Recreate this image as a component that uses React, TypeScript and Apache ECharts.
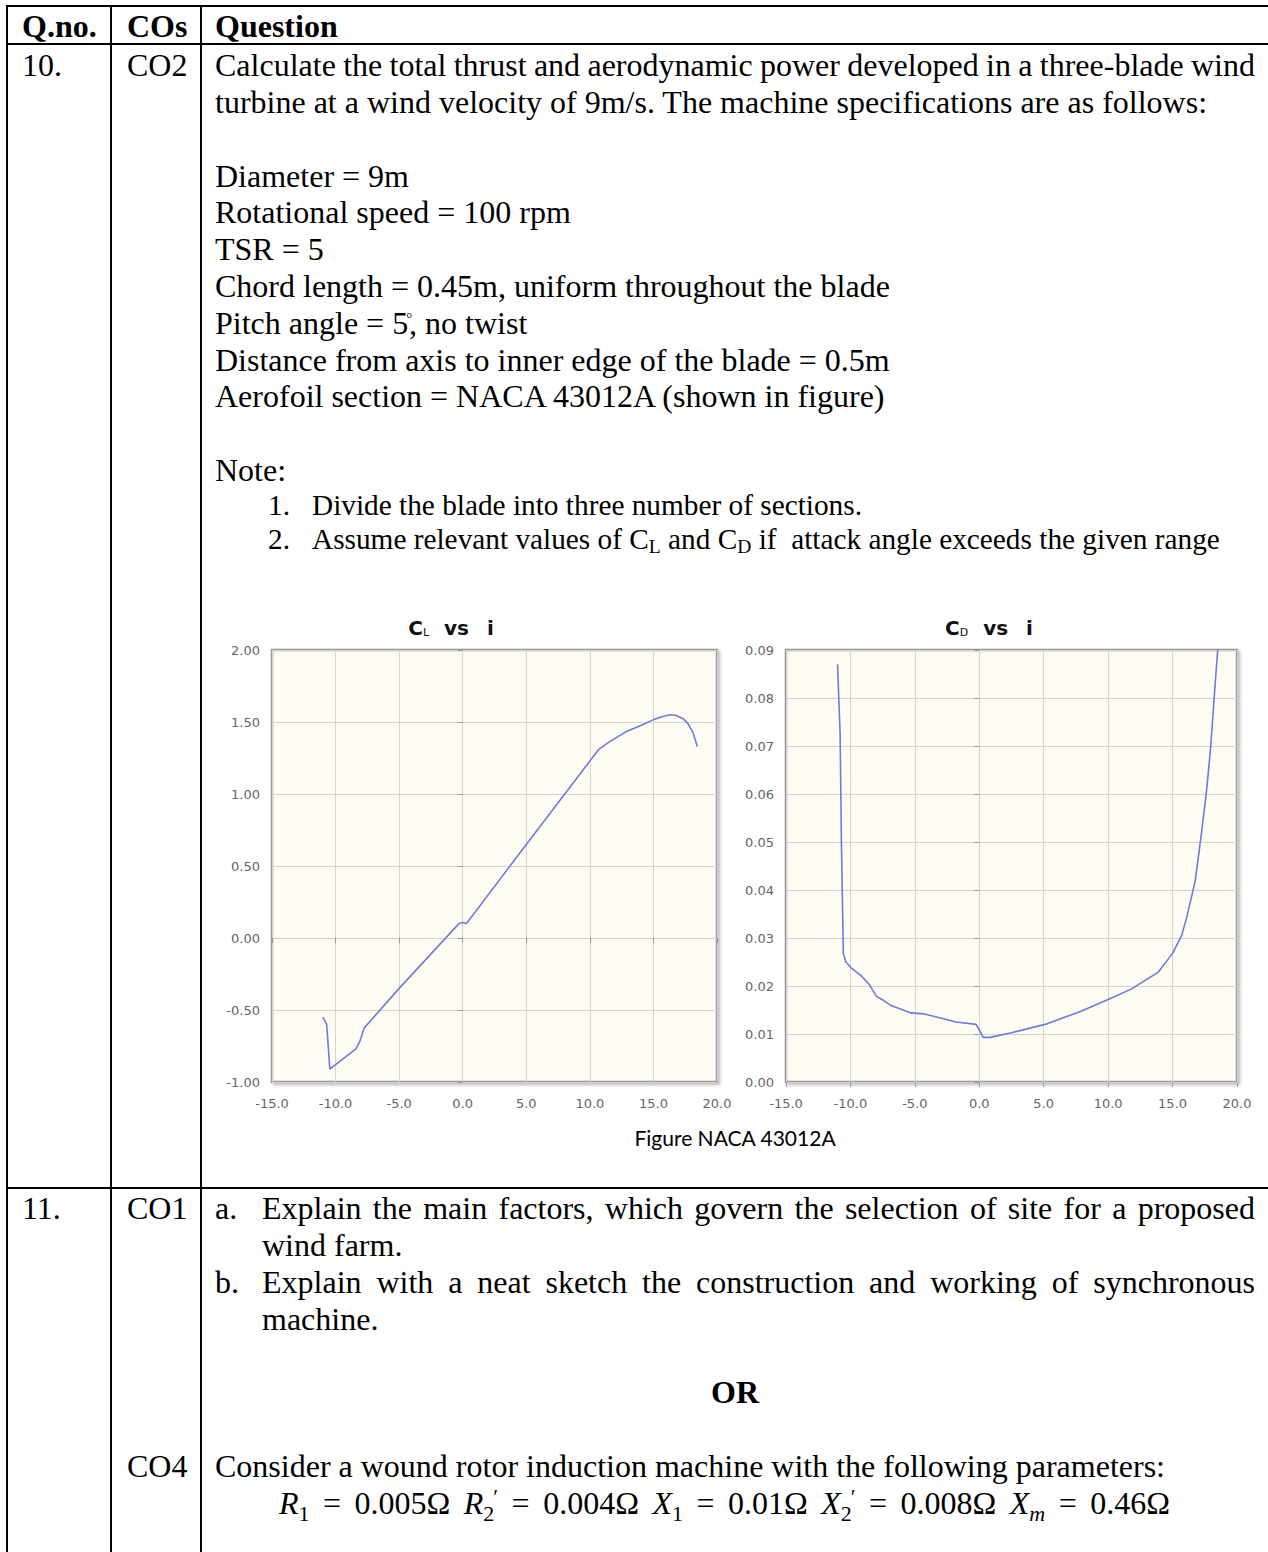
import React, { useEffect, useRef } from 'react';
import * as echarts from 'echarts';

// ---------- data ----------
const clAngle = [-11.0, -10.7, -10.45, -8.4, -8.1, -7.75, -5.0, -0.3, 0.0, 0.3, 5.0, 10.7, 11.5, 12.8, 14.0, 15.1, 15.8, 16.3, 16.8, 17.3, 17.7, 18.1, 18.45];
const clValue = [-0.55, -0.6, -0.91, -0.77, -0.72, -0.625, -0.35, 0.1, 0.108, 0.1, 0.65, 1.31, 1.36, 1.43, 1.475, 1.52, 1.54, 1.55, 1.545, 1.525, 1.49, 1.43, 1.33];

const cdAngle = [-11.0, -10.8, -10.7, -10.55, -10.35, -9.95, -9.15, -8.5, -8.0, -7.55, -6.9, -5.3, -4.35, -3.4, -1.8, -0.25, 0.05, 0.3, 0.85, 2.4, 5.1, 7.75, 10.0, 11.75, 13.9, 15.0, 15.7, 16.1, 16.75, 17.25, 17.65, 17.95, 18.2, 18.5];
const cdValue = [0.087, 0.0725, 0.05, 0.0268, 0.025, 0.0238, 0.0221, 0.0202, 0.0179, 0.0172, 0.016, 0.0144, 0.0142, 0.0136, 0.0125, 0.012, 0.0106, 0.0093, 0.0093, 0.0102, 0.012, 0.0146, 0.0172, 0.0193, 0.0229, 0.0268, 0.0305, 0.0343, 0.0418, 0.052, 0.061, 0.0695, 0.079, 0.09];

const angleAxis = { min: -15, max: 20, step: 5 };
const clAxis = { min: -1, max: 2, step: 0.5 };
const cdAxis = { min: 0, max: 0.09, step: 0.01 };

const headerCells = ['Q.no.', 'COs', 'Question'];
const q10No = '10.';
const q10Co = 'CO2';
const q10Intro = [
  'Calculate the total thrust and aerodynamic power developed in a three-blade wind',
  'turbine at a wind velocity of 9m/s. The machine specifications are as follows:',
];
const q10Specs = [
  'Diameter = 9m',
  'Rotational speed = 100 rpm',
  'TSR = 5',
  'Chord length = 0.45m, uniform throughout the blade',
  'Pitch angle = 5{deg}, no twist',
  'Distance from axis to inner edge of the blade = 0.5m',
  'Aerofoil section = NACA 43012A (shown in figure)',
];
const noteTitle = 'Note:';
const noteItems = ['Divide the blade into three number of sections.', 'Assume relevant values of C{L} and C{D} if  attack angle exceeds the given range'];
const chartTitles = [['C', 'L', 'vs', 'i'], ['C', 'D', 'vs', 'i']];
const figureCaption = 'Figure NACA 43012A';
const q11No = '11.';
const q11Co = 'CO1';
const q11Parts = [
  ['a.', 'Explain the main factors, which govern the selection of site for a proposed', 'wind farm.'],
  ['b.', 'Explain with a neat sketch the construction and working of synchronous', 'machine.'],
];
const orText = 'OR';
const q11bCo = 'CO4';
const q11bText = 'Consider a wound rotor induction machine with the following parameters:';
const mathTerms = [
  { v: 'R', sub: '1', prime: false, val: '0.005Ω' },
  { v: 'R', sub: '2', prime: true, val: '0.004Ω' },
  { v: 'X', sub: '1', prime: false, val: '0.01Ω' },
  { v: 'X', sub: '2', prime: true, val: '0.008Ω' },
  { v: 'X', sub: 'm', prime: false, val: '0.46Ω' },
];

// ---------- layout helpers ----------
const W = 1268;
const H = 1552;
const SERIF = '"Liberation Serif", "Times New Roman", serif';
const SANS = '"DejaVu Sans", Verdana, sans-serif';
const CAPTION = 'Lato, "Open Sans", sans-serif';
const C_SERIF = 0.3375;
const C_SANS = 0.346;
const C_LATO = 0.387;

let mctx: CanvasRenderingContext2D | null = null;
function fontStr(size: number, family: string, bold?: boolean, italic?: boolean) {
  return `${italic ? 'italic ' : ''}${bold ? 'bold ' : ''}${size}px ${family}`;
}
function measure(text: string, font: string) {
  if (!mctx) mctx = document.createElement('canvas').getContext('2d');
  mctx!.font = font;
  return mctx!.measureText(text).width;
}

type TOpts = { family?: string; bold?: boolean; italic?: boolean; fill?: string; align?: string; central?: number };
function txt(text: string, x: number, baseline: number, size: number, o: TOpts = {}) {
  const family = o.family || SERIF;
  const c = o.central ?? C_SERIF;
  const align = o.align || 'left';
  return {
    type: 'text',
    z: 50,
    silent: true,
    x,
    y: baseline - c * size,
    style: {
      text,
      fontSize: size,
      fontFamily: family,
      fontWeight: o.bold ? 'bold' : 'normal',
      fontStyle: o.italic ? 'italic' : 'normal',
      fill: o.fill || '#000',
      textAlign: align,
      align,
      textVerticalAlign: 'middle',
      verticalAlign: 'middle',
    },
  };
}

function justify(line: string, x0: number, x1: number, baseline: number, size: number, o: TOpts = {}) {
  const words = line.split(' ');
  const font = fontStr(size, o.family || SERIF, o.bold, o.italic);
  const ws = words.map((w) => measure(w, font));
  const total = ws.reduce((a, b) => a + b, 0);
  const gap = (x1 - x0 - total) / (words.length - 1);
  const out: any[] = [];
  let x = x0;
  words.forEach((w, i) => {
    out.push(txt(w, x, baseline, size, o));
    x += ws[i] + gap;
  });
  return out;
}

type Run = { t: string; size?: number; italic?: boolean; bold?: boolean; shift?: number; dx?: number; stretch?: boolean; noAdv?: boolean };
function runs(list: Run[], x0: number, baseline: number, baseSize: number, family: string, central: number, target?: number, align: 'left' | 'center' = 'left', fill?: string) {
  const m = list.map((r) => {
    const size = r.size ?? baseSize;
    const w = measure(r.t, fontStr(size, family, r.bold, r.italic));
    return { ...r, size, w };
  });
  let natural = 0;
  let nStretch = 0;
  m.forEach((r) => {
    natural += (r.dx || 0) + (r.noAdv ? 0 : r.w);
    if (r.stretch) nStretch++;
  });
  const extra = target && nStretch ? (target - natural) / nStretch : 0;
  const width = target && nStretch ? target : natural;
  let x = align === 'center' ? x0 - width / 2 : x0;
  const out: any[] = [];
  m.forEach((r) => {
    x += r.dx || 0;
    if (r.t.trim()) out.push(txt(r.t, x, baseline + (r.shift || 0), r.size, { family, bold: r.bold, italic: r.italic, central, fill }));
    if (!r.noAdv) x += r.w;
    if (r.stretch) x += extra;
  });
  return out;
}

function buildGraphics() {
  const els: any[] = [];
  const S = 32; // 12pt
  const SN = 29.3; // 11pt
  const LH = 36.8;
  const line = (x1: number, y1: number, x2: number, y2: number) => ({
    type: 'line', z: 60, silent: true, shape: { x1, y1, x2, y2 }, style: { stroke: '#000', lineWidth: 2 },
  });
  // table rules
  els.push(line(6, 6, W, 6));
  els.push(line(6, 44, W, 44));
  els.push(line(6, 1188, W, 1188));
  els.push(line(7, 5, 7, H));
  els.push(line(111, 5, 111, H));
  els.push(line(201, 5, 201, H));

  // header
  const colX = [22, 127, 215];
  headerCells.forEach((h, i) => els.push(txt(h, colX[i], 37, S, { bold: true })));

  // question 10
  const b0 = 76;
  els.push(txt(q10No, colX[0], b0, S));
  els.push(txt(q10Co, colX[1], b0, S));
  els.push(...justify(q10Intro[0], 215, 1255, b0, S));
  els.push(txt(q10Intro[1], 215, b0 + LH, S));
  q10Specs.forEach((s, i) => {
    const bl = b0 + LH * (3 + i);
    if (s.includes('{deg}')) {
      const [a, b] = s.split('{deg}');
      els.push(...runs([{ t: a }, { t: '°', size: 15, dx: -2, shift: -11 }, { t: b, dx: -3 }], 215, bl, S, SERIF, C_SERIF));
    } else {
      els.push(txt(s, 215, bl, S));
    }
  });
  els.push(txt(noteTitle, 215, b0 + LH * 11, S));
  const nb = 515;
  noteItems.forEach((n, i) => {
    const bl = nb + 34 * i;
    els.push(txt(`${i + 1}.`, 268, bl, SN));
    const parts = n.split(/\{(.)\}/);
    const rl: Run[] = parts.map((p, k) => (k % 2 === 1 ? { t: p, size: 19.5, shift: 4 } : { t: p }));
    els.push(...runs(rl, 312, bl, SN, SERIF, C_SERIF));
  });

  // chart titles
  const titleX = [451, 989];
  chartTitles.forEach((t, i) => {
    els.push(
      ...runs(
        [{ t: t[0], size: 20, bold: true }, { t: t[1], size: 11, shift: 1 }, { t: t[2], size: 20, bold: true, dx: 15 }, { t: t[3], size: 20, bold: true, dx: 18 }],
        titleX[i], 635, 20, SANS, C_SANS, undefined, 'center', '#111'
      )
    );
  });
  // clip the cut tick label at the right edge of the second chart image
  els.push({ type: 'rect', z: 40, silent: true, shape: { x: 1252, y: 1094, width: 16, height: 26 }, style: { fill: '#fff' } });

  // caption
  const capSize = (20 * 202) / measure(figureCaption, fontStr(20, CAPTION));
  els.push(txt(figureCaption, 735, 1137 + C_LATO * capSize, capSize, { family: CAPTION, central: C_LATO, align: 'center' }));

  // question 11
  const b1 = 1219;
  els.push(txt(q11No, colX[0], b1, S));
  els.push(txt(q11Co, colX[1], b1, S));
  q11Parts.forEach((p, i) => {
    const bl = b1 + LH * 2 * i;
    els.push(txt(p[0], 215, bl, S));
    els.push(...justify(p[1], 262, 1255, bl, S));
    els.push(txt(p[2], 262, bl + LH, S));
  });
  els.push(txt(orText, 735, 1403, S, { bold: true, align: 'center' }));
  const b2 = 1477;
  els.push(txt(q11bCo, colX[1], b2, S));
  els.push(txt(q11bText, 215, b2, S));
  // math line
  const mr: Run[] = [];
  mathTerms.forEach((m, i) => {
    if (i > 0) mr.push({ t: ' ', stretch: true });
    mr.push({ t: m.v, italic: true });
    mr.push({ t: m.sub, size: 22, shift: 7, italic: m.sub === 'm' });
    if (m.prime) mr.push({ t: '′', size: 22, shift: -10, dx: -1 });
    mr.push({ t: ' ', stretch: true });
    mr.push({ t: '=' });
    mr.push({ t: ' ', stretch: true });
    mr.push({ t: m.val });
  });
  els.push(...runs(mr, 279, b2 + LH, S, SERIF, C_SERIF, 891));
  return els;
}

function buildOption() {
  const grids = [
    { left: 272, top: 650, width: 445, height: 432 },
    { left: 786, top: 650, width: 451, height: 432 },
  ];
  const labelStyle = { color: '#666', fontFamily: SANS, fontSize: 13 };
  return {
    animation: false,
    backgroundColor: '#fff',
    grid: grids.map((g) => ({
      ...g,
      show: true,
      backgroundColor: '#fffcf3',
      borderColor: '#999',
      borderWidth: 2.5,
      shadowColor: 'rgba(0,0,0,0.25)',
      shadowBlur: 3,
      shadowOffsetX: 2,
      shadowOffsetY: 2,
      containLabel: false,
    })),
    xAxis: [0, 1].map((i) => ({
      type: 'value',
      gridIndex: i,
      min: angleAxis.min,
      max: angleAxis.max,
      interval: angleAxis.step,
      axisLine: { show: false },
      axisTick: { show: true, length: 5, lineStyle: { color: '#999' } },
      splitLine: { show: true, lineStyle: { color: '#d4d4d4', width: 1 } },
      axisLabel: { ...labelStyle, margin: 15, formatter: (v: number) => v.toFixed(1) },
    })),
    yAxis: [
      { ax: clAxis, digits: 2 },
      { ax: cdAxis, digits: 2 },
    ].map((a, i) => ({
      type: 'value',
      gridIndex: i,
      min: a.ax.min,
      max: a.ax.max,
      interval: a.ax.step,
      axisLine: { show: false },
      axisTick: { show: true, length: 5, lineStyle: { color: '#999' } },
      splitLine: { show: true, lineStyle: { color: '#d4d4d4', width: 1 } },
      axisLabel: { ...labelStyle, margin: 12, formatter: (v: number) => v.toFixed(a.digits) },
    })),
    series: [
      {
        type: 'line',
        xAxisIndex: 0,
        yAxisIndex: 0,
        data: clAngle.map((a, i) => [a, clValue[i]]),
        showSymbol: false,
        symbol: 'none',
        lineStyle: { color: '#6b7be0', width: 1.6 },
        z: 5,
      },
      {
        type: 'line',
        xAxisIndex: 1,
        yAxisIndex: 1,
        data: cdAngle.map((a, i) => [a, cdValue[i]]),
        showSymbol: false,
        symbol: 'none',
        lineStyle: { color: '#6b7be0', width: 1.6 },
        z: 5,
      },
    ],
    graphic: { elements: buildGraphics() },
  };
}

export default function App() {
  const ref = useRef<HTMLDivElement>(null);
  useEffect(() => {
    const chart = echarts.init(ref.current!, null, { renderer: 'svg', width: W, height: H });
    chart.setOption(buildOption() as any);
    return () => chart.dispose();
  }, []);
  return <div ref={ref} style={{ position: 'absolute', left: 0, top: 0, width: W, height: H, background: '#fff' }} />;
}
